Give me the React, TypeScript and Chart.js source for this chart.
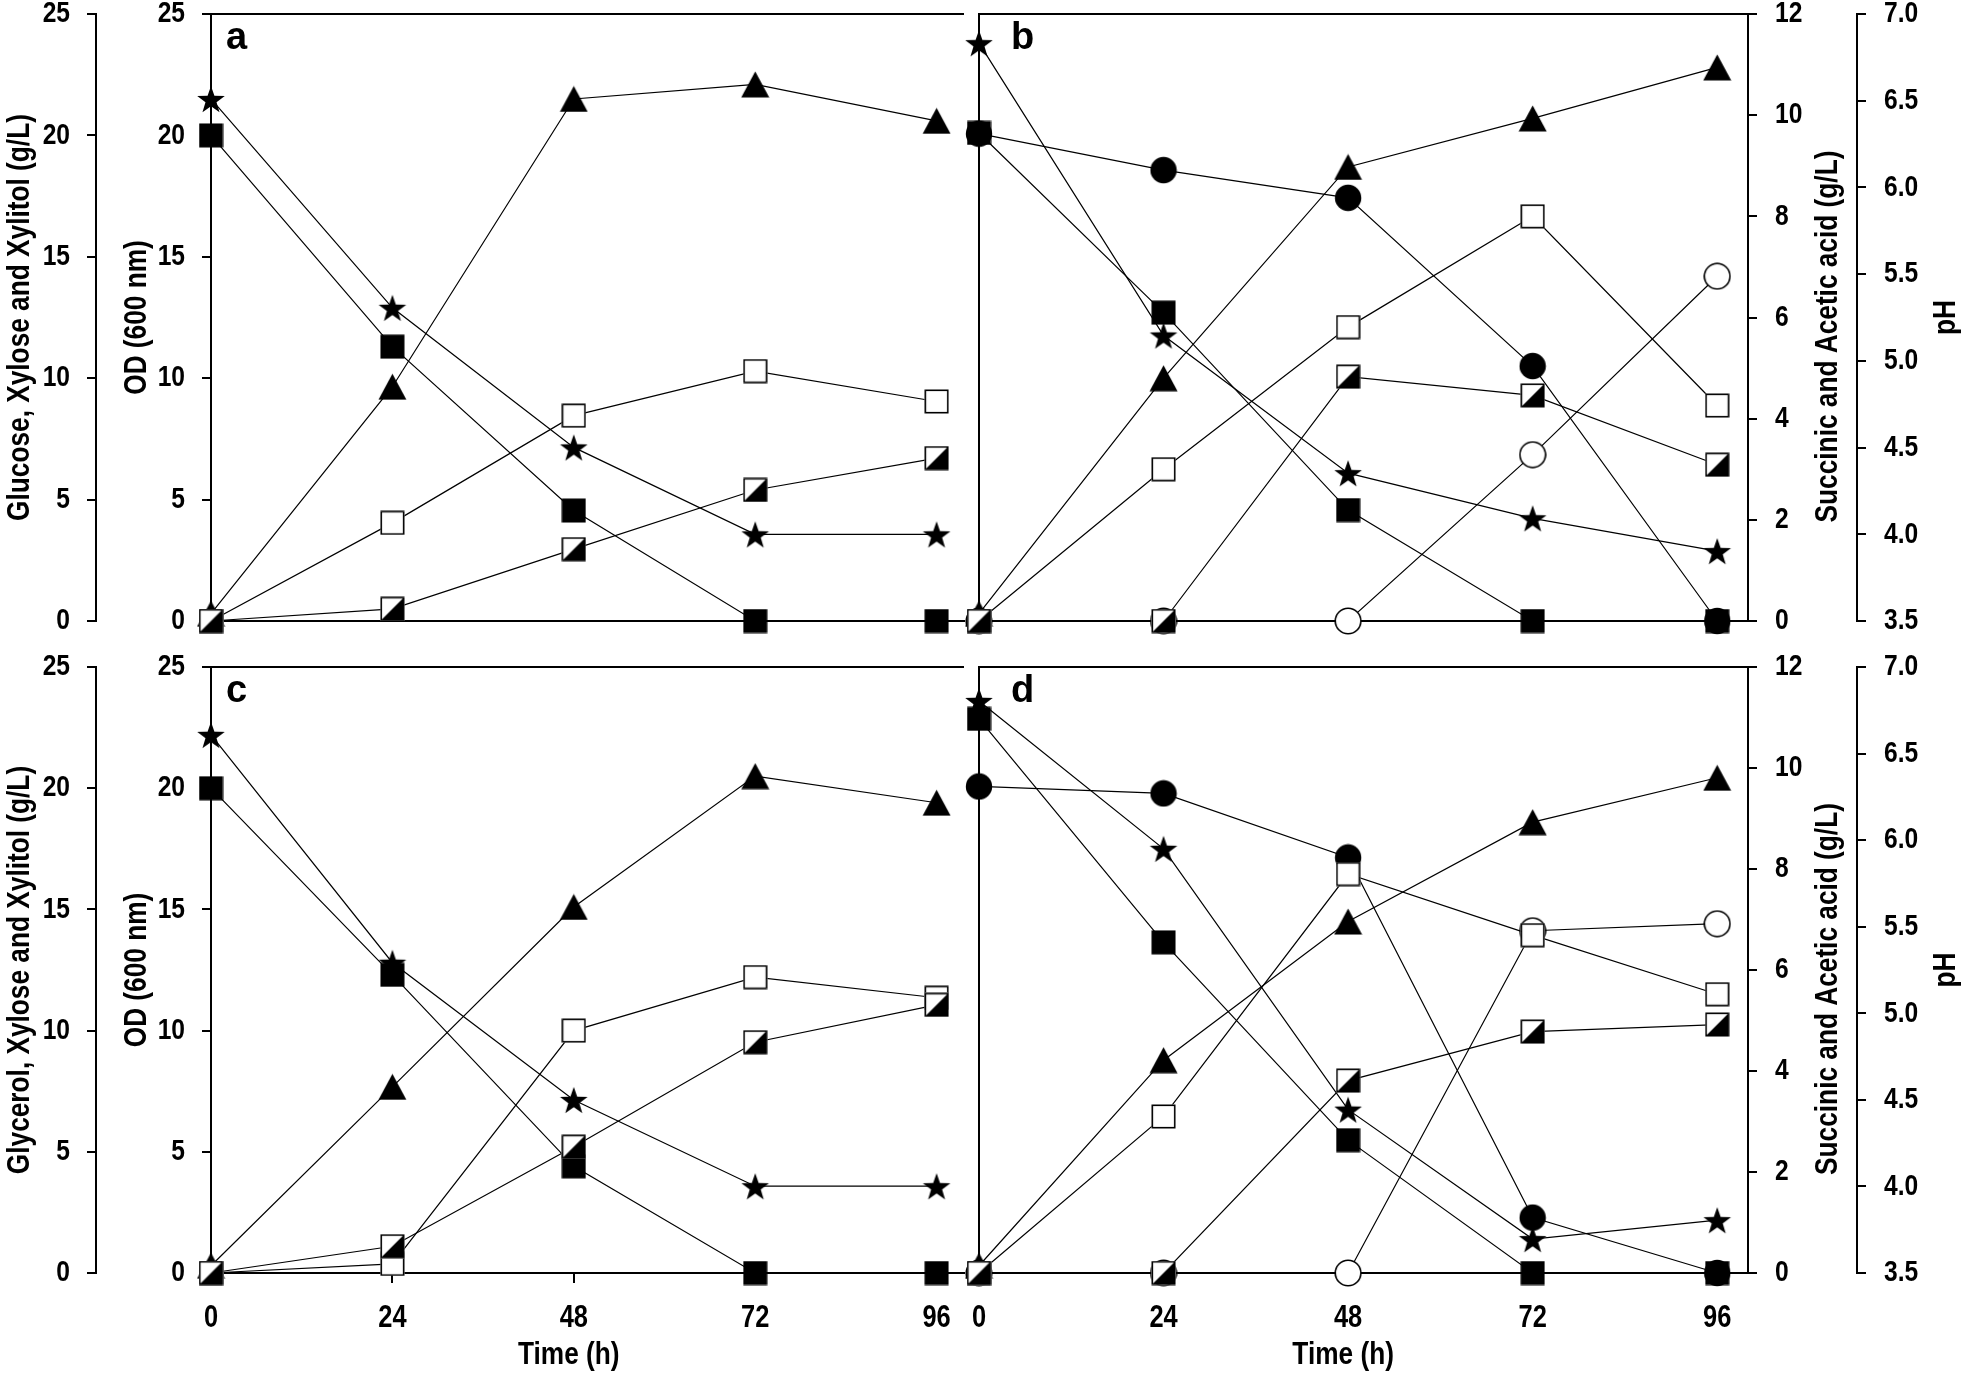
import { useEffect, useRef } from 'react';
import { Chart, registerables } from 'chart.js';

Chart.register(...registerables);

// ---------- data ----------
const TIME_H = [0, 24, 48, 72, 96];
const X_TICKS = [0, 24, 48, 72, 96];
const GL_TICKS = [0, 5, 10, 15, 20, 25];
const OD_TICKS = [0, 5, 10, 15, 20, 25];
const ACID_TICKS = [0, 2, 4, 6, 8, 10, 12];
const PH_TICKS = [3.5, 4.0, 4.5, 5.0, 5.5, 6.0, 6.5, 7.0];

const TOP_LEFT_TITLE = 'Glucose, Xylose and Xylitol (g/L)';
const BOTTOM_LEFT_TITLE = 'Glycerol, Xylose and Xylitol (g/L)';
const OD_TITLE = 'OD (600 nm)';
const ACID_TITLE = 'Succinic and Acetic acid (g/L)';
const PH_TITLE = 'pH';
const X_TITLE = 'Time (h)';

// Panel a
const A_GLUCOSE = [20.0, 11.3, 4.55, 0, 0];
const A_XYLOSE = [21.5, 12.9, 7.15, 3.57, 3.57];
const A_OD = [0.3, 9.65, 21.5, 22.1, 20.6];
const A_SUCCINIC = [0, 1.94, 4.06, 4.94, 4.34];
const A_ACETIC = [0, 0.24, 1.42, 2.59, 3.22];

// Panel b
const B_GLUCOSE = [20.1, 12.7, 4.57, 0, 0];
const B_XYLOSE = [23.8, 11.76, 6.09, 4.23, 2.88];
const B_OD = [0.3, 10.0, 18.7, 20.7, 22.8];
const B_SUCCINIC = [0, 3.0, 5.81, 8.0, 4.26];
const B_ACETIC = [0, 0, 4.83, 4.46, 3.09];
const B_PH = [6.31, 6.1, 5.94, 4.97, 3.5];
const B_XYLITOL = [0, 0, 0, 6.85, 14.2];

// Panel c
const C_GLYCEROL = [20.0, 12.3, 4.4, 0, 0];
const C_XYLOSE = [22.2, 12.8, 7.14, 3.58, 3.58];
const C_OD = [0.3, 7.68, 15.1, 20.5, 19.4];
const C_SUCCINIC = [0, 0.18, 4.8, 5.86, 5.45];
const C_ACETIC = [0, 0.53, 2.5, 4.57, 5.31];

// Panel d
const D_GLYCEROL = [22.86, 13.64, 5.48, 0, 0];
const D_XYLOSE = [23.6, 17.5, 6.74, 1.4, 2.18];
const D_OD = [0.3, 8.78, 14.5, 18.6, 20.43];
const D_SUCCINIC = [0, 3.1, 7.9, 6.69, 5.52];
const D_ACETIC = [0, 0, 3.81, 4.78, 4.92];
const D_PH = [6.31, 6.27, 5.9, 3.82, 3.5];
const D_XYLITOL = [0, 0, 0, 14.12, 14.41];

type MarkerKind = 'sqFill' | 'sqOpen' | 'sqHalf' | 'tri' | 'star' | 'circFill' | 'circOpen';
type AxisId = 'yG' | 'yOD' | 'yAcid' | 'ypH';
type Series = { label: string; values: number[]; axis: AxisId; marker: MarkerKind };

// first entry is drawn on top
const SERIES_A: Series[] = [
  { label: 'Acetic acid', values: A_ACETIC, axis: 'yAcid', marker: 'sqHalf' },
  { label: 'Succinic acid', values: A_SUCCINIC, axis: 'yAcid', marker: 'sqOpen' },
  { label: 'OD', values: A_OD, axis: 'yOD', marker: 'tri' },
  { label: 'Glucose', values: A_GLUCOSE, axis: 'yG', marker: 'sqFill' },
  { label: 'Xylose', values: A_XYLOSE, axis: 'yG', marker: 'star' },
];
const SERIES_B: Series[] = [
  { label: 'Acetic acid', values: B_ACETIC, axis: 'yAcid', marker: 'sqHalf' },
  { label: 'Succinic acid', values: B_SUCCINIC, axis: 'yAcid', marker: 'sqOpen' },
  { label: 'OD', values: B_OD, axis: 'yOD', marker: 'tri' },
  { label: 'pH', values: B_PH, axis: 'ypH', marker: 'circFill' },
  { label: 'Xylitol', values: B_XYLITOL, axis: 'yG', marker: 'circOpen' },
  { label: 'Glucose', values: B_GLUCOSE, axis: 'yG', marker: 'sqFill' },
  { label: 'Xylose', values: B_XYLOSE, axis: 'yG', marker: 'star' },
];
const SERIES_C: Series[] = [
  { label: 'Acetic acid', values: C_ACETIC, axis: 'yAcid', marker: 'sqHalf' },
  { label: 'Succinic acid', values: C_SUCCINIC, axis: 'yAcid', marker: 'sqOpen' },
  { label: 'OD', values: C_OD, axis: 'yOD', marker: 'tri' },
  { label: 'Glycerol', values: C_GLYCEROL, axis: 'yG', marker: 'sqFill' },
  { label: 'Xylose', values: C_XYLOSE, axis: 'yG', marker: 'star' },
];
const SERIES_D: Series[] = [
  { label: 'Acetic acid', values: D_ACETIC, axis: 'yAcid', marker: 'sqHalf' },
  { label: 'Succinic acid', values: D_SUCCINIC, axis: 'yAcid', marker: 'sqOpen' },
  { label: 'OD', values: D_OD, axis: 'yOD', marker: 'tri' },
  { label: 'pH', values: D_PH, axis: 'ypH', marker: 'circFill' },
  { label: 'Xylitol', values: D_XYLITOL, axis: 'yG', marker: 'circOpen' },
  { label: 'Glycerol', values: D_GLYCEROL, axis: 'yG', marker: 'sqFill' },
  { label: 'Xylose', values: D_XYLOSE, axis: 'yG', marker: 'star' },
];

type PanelDef = {
  letter: string; side: 'left' | 'right'; bottom: boolean; xMax: number;
  leftTitle?: string; series: Series[];
  left: number; top: number; w: number; h: number; xH: number;
};

const TOP_ROW = { top: -26, h: 687, xH: 40 };
const BOT_ROW = { top: 627, h: 750, xH: 104 };
const LEFT_COL = { left: 0, w: 979 };
const RIGHT_COL = { left: 949, w: 1012 };

const PANELS: PanelDef[] = [
  { letter: 'a', side: 'left', bottom: false, xMax: 99.6, leftTitle: TOP_LEFT_TITLE, series: SERIES_A, ...LEFT_COL, ...TOP_ROW },
  { letter: 'b', side: 'right', bottom: false, xMax: 100, series: SERIES_B, ...RIGHT_COL, ...TOP_ROW },
  { letter: 'c', side: 'left', bottom: true, xMax: 99.6, leftTitle: BOTTOM_LEFT_TITLE, series: SERIES_C, ...LEFT_COL, ...BOT_ROW },
  { letter: 'd', side: 'right', bottom: true, xMax: 100, series: SERIES_D, ...RIGHT_COL, ...BOT_ROW },
];

// ---------- helpers ----------
function pickFonts() {
  const ctx = document.createElement('canvas').getContext('2d')!;
  const txt = 'Glucose, Xylose 0123456789';
  ctx.font = 'bold 40px monospace';
  const w1 = ctx.measureText(txt).width;
  ctx.font = 'bold 40px "Liberation Sans Narrow", monospace';
  const w2 = ctx.measureText(txt).width;
  const narrow = Math.abs(w1 - w2) > 0.5;
  if (narrow) {
    return { family: '"Liberation Sans Narrow", "Liberation Sans", Arial, sans-serif', sx: 1, tick: 30, xtick: 31, title: 32 };
  }
  // emulate a narrow bold face by compressing Liberation Sans Bold horizontally
  return { family: '"Liberation Sans", Arial, sans-serif', sx: 0.82, tick: 30, xtick: 31, title: 32 };
}

function makeMarker(kind: MarkerKind): HTMLCanvasElement {
  const c = document.createElement('canvas');
  let w = 25, h = 25;
  if (kind === 'tri') { w = 29; h = 27; }
  if (kind === 'star') { w = 30; h = 30; }
  if (kind === 'circFill' || kind === 'circOpen') { w = 28; h = 28; }
  c.width = w; c.height = h;
  const g = c.getContext('2d')!;
  g.fillStyle = '#000'; g.strokeStyle = '#000'; g.lineWidth = 1.6;
  if (kind === 'sqFill') {
    g.fillRect(0.5, 0.5, w - 1, h - 1);
  } else if (kind === 'sqOpen') {
    g.fillStyle = '#fff'; g.fillRect(0.5, 0.5, w - 1, h - 1);
    g.strokeRect(1.3, 1.3, w - 2.6, h - 2.6);
  } else if (kind === 'sqHalf') {
    g.fillStyle = '#fff'; g.fillRect(0.5, 0.5, w - 1, h - 1);
    g.fillStyle = '#000';
    g.beginPath(); g.moveTo(1, h - 1); g.lineTo(w - 1, h - 1); g.lineTo(w - 1, 1); g.closePath(); g.fill();
    g.strokeRect(1.3, 1.3, w - 2.6, h - 2.6);
  } else if (kind === 'tri') {
    g.beginPath(); g.moveTo(w / 2, 0.5); g.lineTo(w - 0.5, h - 0.5); g.lineTo(0.5, h - 0.5); g.closePath(); g.fill();
  } else if (kind === 'star') {
    const cx = w / 2, cy = h / 2 + 1.5, R = 14.5, r = R * 0.4;
    g.beginPath();
    for (let i = 0; i < 10; i++) {
      const ang = -Math.PI / 2 + (i * Math.PI) / 5;
      const rad = i % 2 === 0 ? R : r;
      const px = cx + rad * Math.cos(ang), py = cy + rad * Math.sin(ang);
      if (i === 0) g.moveTo(px, py); else g.lineTo(px, py);
    }
    g.closePath(); g.fill();
  } else if (kind === 'circFill') {
    g.beginPath(); g.arc(w / 2, h / 2, w / 2 - 0.8, 0, Math.PI * 2); g.fill();
  } else if (kind === 'circOpen') {
    g.fillStyle = '#fff';
    g.beginPath(); g.arc(w / 2, h / 2, w / 2 - 1.2, 0, Math.PI * 2); g.fill(); g.stroke();
  }
  return c;
}

const tickList = (arr: number[]) => (s: any) => { s.ticks = arr.map((v) => ({ value: v })); };

function drawScaled(ctx: CanvasRenderingContext2D, text: string, x: number, y: number, sx: number, rot: number) {
  ctx.save();
  ctx.translate(x, y);
  if (rot) ctx.rotate(rot);
  ctx.scale(sx, 1);
  ctx.fillText(text, 0, 0);
  ctx.restore();
}

const letterPlugin = {
  id: 'panelLetter',
  afterDraw(chart: any, _args: any, opts: any) {
    const { ctx, chartArea } = chart;
    ctx.save();
    ctx.font = 'bold 38px "Liberation Sans", Arial, sans-serif';
    ctx.fillStyle = '#000'; ctx.textAlign = 'left'; ctx.textBaseline = 'alphabetic';
    ctx.fillText(opts.text, chartArea.left + opts.dx, chartArea.top + opts.dy);
    ctx.restore();
  },
};

// draws the tick labels in a condensed bold face (Chart.js' own labels are kept for layout but transparent)
const tickTextPlugin = {
  id: 'tickText',
  afterDraw(chart: any, _args: any, opts: any) {
    const ctx = chart.ctx;
    ctx.save();
    ctx.fillStyle = '#000';
    ctx.textBaseline = 'middle';
    for (const id of Object.keys(chart.scales)) {
      const s = chart.scales[id];
      const o = s.options;
      if (!o.display || !o.ticks || !o.ticks.display || !o.ticks.showText) continue;
      const tl = o.grid.drawTicks ? o.grid.tickLength : 0;
      for (const t of s.ticks) {
        const label = String(t.label);
        const px = s.getPixelForValue(t.value);
        if (s.isHorizontal()) {
          ctx.font = `bold ${opts.xtick}px ${opts.family}`;
          ctx.textAlign = 'center';
          drawScaled(ctx, label, px, s.top + tl + opts.xGap, opts.sx, 0);
        } else if (o.position === 'left') {
          ctx.font = `bold ${opts.tick}px ${opts.family}`;
          ctx.textAlign = 'right';
          drawScaled(ctx, label, s.right - tl - 17, px, opts.sx, 0);
        } else {
          ctx.font = `bold ${opts.tick}px ${opts.family}`;
          ctx.textAlign = 'left';
          drawScaled(ctx, label, s.left + tl + 18, px, opts.sx, 0);
        }
      }
    }
    ctx.restore();
  },
};

const titlesPlugin = {
  id: 'axisTitles',
  afterDraw(chart: any, _args: any, opts: any) {
    const ctx = chart.ctx;
    for (const t of opts.items) {
      const s = chart.scales[t.scale];
      if (!s) continue;
      ctx.save();
      ctx.font = opts.font; ctx.fillStyle = '#000'; ctx.textAlign = 'center'; ctx.textBaseline = 'middle';
      if (t.vertical) {
        drawScaled(ctx, t.text, s.left + t.offset, (s.top + s.bottom) / 2 + (t.dy || 0), opts.sx, -Math.PI / 2);
      } else {
        const cx = (s.getPixelForValue(X_TICKS[0]) + s.getPixelForValue(X_TICKS[X_TICKS.length - 1])) / 2 + (t.dx || 0);
        drawScaled(ctx, t.text, cx, s.top + t.offset, opts.sx, 0);
      }
      ctx.restore();
    }
  },
};

function buildChart(canvas: HTMLCanvasElement, p: PanelDef, F: any, M: Record<MarkerKind, HTMLCanvasElement>) {
  const border = { display: true, color: '#000', width: 2 };
  const layoutFont = { family: '"Liberation Sans", Arial, sans-serif', size: 26, weight: 'bold' as const };
  const yVisible = (min: number, max: number, ticks: number[], fmt: (v: number) => string, pos: string, weight: number, width: number) => ({
    type: 'linear', position: pos, weight, min, max,
    afterBuildTicks: tickList(ticks),
    ticks: { display: true, showText: true, padding: 17, font: layoutFont, color: 'rgba(0,0,0,0)', callback: (v: any) => fmt(Number(v)) },
    grid: { display: true, drawOnChartArea: false, drawTicks: true, tickLength: 9, color: '#000', lineWidth: 2 },
    border,
    afterFit: (s: any) => { s.width = width; },
  });
  const hidden = (min: number, max: number) => ({ type: 'linear', display: false, min, max });

  const scales: any = {
    x: {
      type: 'linear', position: 'bottom', min: 0, max: p.xMax,
      afterBuildTicks: tickList(X_TICKS),
      ticks: {
        display: p.bottom, showText: true, padding: 0, color: 'rgba(0,0,0,0)', maxRotation: 0, autoSkip: false,
        font: layoutFont,
        callback: (v: any) => String(v),
      },
      grid: { display: p.bottom, drawOnChartArea: false, drawTicks: true, tickLength: 10, color: '#000', lineWidth: 2 },
      border,
      afterFit: (s: any) => { s.height = p.xH; },
    },
    xTop: {
      type: 'linear', position: 'top', min: 0, max: p.xMax,
      ticks: { display: false }, grid: { display: false }, border,
      afterFit: (s: any) => { s.height = 40; },
    },
  };
  const titleItems: any[] = [];
  if (p.side === 'left') {
    scales.yG = yVisible(0, 25, GL_TICKS, (v) => String(v), 'left', 1, 96);
    scales.yOD = yVisible(0, 25, OD_TICKS, (v) => String(v), 'left', 0, 115);
    scales.yAcid = hidden(0, 12);
    scales.ypH = hidden(3.5, 7);
    titleItems.push({ scale: 'yG', vertical: true, text: p.leftTitle, offset: 20 });
    titleItems.push({ scale: 'yOD', vertical: true, text: OD_TITLE, offset: 41 });
  } else {
    scales.yEdge = {
      type: 'linear', position: 'left', min: 0, max: 1,
      ticks: { display: false }, grid: { display: false }, border,
      afterFit: (s: any) => { s.width = 30; },
    };
    scales.yG = hidden(0, 25);
    scales.yOD = hidden(0, 25);
    scales.yAcid = yVisible(0, 12, ACID_TICKS, (v) => String(v), 'right', 0, 109);
    scales.ypH = yVisible(3.5, 7, PH_TICKS, (v) => v.toFixed(1), 'right', 1, 104);
    titleItems.push({ scale: 'yAcid', vertical: true, text: ACID_TITLE, offset: 80, dy: 19 });
    titleItems.push({ scale: 'ypH', vertical: true, text: PH_TITLE, offset: 89 });
  }
  if (p.bottom) titleItems.push({ scale: 'x', vertical: false, text: X_TITLE, offset: 82, dx: -5 });

  const datasets = p.series.map((s) => ({
    label: s.label,
    data: TIME_H.map((t, i) => ({ x: t, y: s.values[i] })),
    xAxisID: 'x', yAxisID: s.axis,
    borderColor: '#000', backgroundColor: '#000', borderWidth: 1.2,
    pointStyle: M[s.marker], pointRadius: 14, pointHoverRadius: 14,
    fill: false, tension: 0, clip: false as const,
  }));

  return new Chart(canvas, {
    type: 'line',
    data: { datasets },
    options: {
      responsive: false, animation: false, devicePixelRatio: 1, events: [],
      layout: { padding: 0 },
      scales,
      plugins: {
        legend: { display: false }, tooltip: { enabled: false },
        panelLetter: { text: p.letter, dx: p.side === 'left' ? 15 : 32, dy: 35 },
        tickText: { family: F.family, sx: F.sx, tick: F.tick, xtick: F.xtick, xGap: 35 },
        axisTitles: { font: `bold ${F.title}px ${F.family}`, sx: F.sx, items: titleItems },
      } as any,
    },
    plugins: [tickTextPlugin, letterPlugin, titlesPlugin],
  } as any);
}

export default function App() {
  const r0 = useRef<HTMLCanvasElement>(null);
  const r1 = useRef<HTMLCanvasElement>(null);
  const r2 = useRef<HTMLCanvasElement>(null);
  const r3 = useRef<HTMLCanvasElement>(null);
  const refs = [r0, r1, r2, r3];

  useEffect(() => {
    const F = pickFonts();
    const M = {
      sqFill: makeMarker('sqFill'), sqOpen: makeMarker('sqOpen'), sqHalf: makeMarker('sqHalf'),
      tri: makeMarker('tri'), star: makeMarker('star'), circFill: makeMarker('circFill'), circOpen: makeMarker('circOpen'),
    } as Record<MarkerKind, HTMLCanvasElement>;
    const charts = PANELS.map((p, i) => buildChart(refs[i].current!, p, F, M));
    return () => charts.forEach((c) => c.destroy());
  }, []);

  return (
    <div style={{ position: 'absolute', left: 0, top: 0, width: 1961, height: 1377, background: '#fff', overflow: 'hidden' }}>
      {PANELS.map((p, i) => (
        <canvas
          key={p.letter}
          ref={refs[i]}
          width={p.w}
          height={p.h}
          style={{ position: 'absolute', left: p.left, top: p.top, width: p.w, height: p.h }}
        />
      ))}
    </div>
  );
}
